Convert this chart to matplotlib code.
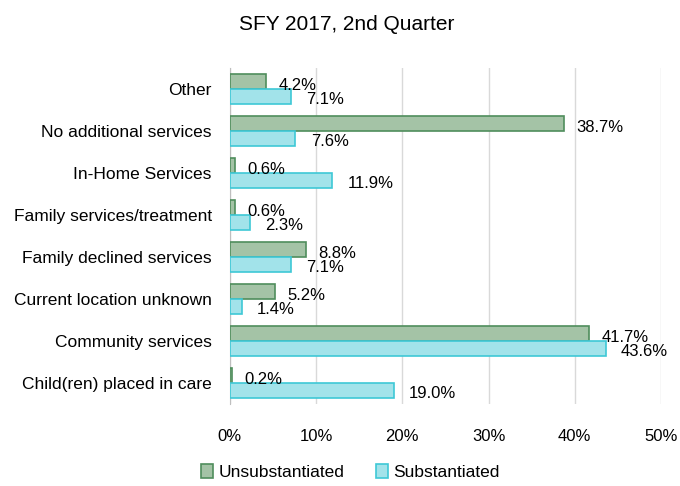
import matplotlib.pyplot as plt
import numpy as np

categories = ["Child(ren) placed in care", "Community services", "Current location unknown",
              "Family declined services", "Family services/treatment", "In-Home Services",
              "No additional services", "Other"]
unsubstantiated = [0.2, 41.7, 5.2, 8.8, 0.6, 0.6, 38.7, 4.2]
substantiated = [19.0, 43.6, 1.4, 7.1, 2.3, 11.9, 7.6, 7.1]
xticks = [0, 10, 20, 30, 40, 50]

plt.rcParams['font.family'] = ['Liberation Sans', 'DejaVu Sans']

fig = plt.figure(figsize=(6.8, 4.86), dpi=100)
ax = fig.add_axes([0.338, 0.169, 0.634, 0.691])

y = np.arange(len(categories))
h = 0.35
b1 = ax.barh(y + h / 2, unsubstantiated, height=h, color='#a4c3a6', edgecolor='#4f8d5c',
             linewidth=1.2, label='Unsubstantiated', zorder=3)
b2 = ax.barh(y - h / 2, substantiated, height=h, color='#a2e3ea', edgecolor='#3ec8d6',
             linewidth=1.2, label='Substantiated', zorder=3)

for v, yy in zip(unsubstantiated, y + h / 2):
    ax.annotate(f"{v:.1f}%", (v, yy), xytext=(9, -3), textcoords='offset points',
                va='center', ha='left', fontsize=12)
for v, yy in zip(substantiated, y - h / 2):
    ax.annotate(f"{v:.1f}%", (v, yy), xytext=(11, -2), textcoords='offset points',
                va='center', ha='left', fontsize=12)

ax.set_xlim(0, 50)
ax.set_ylim(-0.5, len(categories) - 0.5)
ax.set_xticks(xticks)
ax.set_xticklabels([f"{t}%" for t in xticks])
ax.set_yticks(y)
ax.set_yticklabels(categories)
ax.tick_params(axis='x', length=0, pad=18, labelsize=12)
ax.tick_params(axis='y', length=0, pad=13, labelsize=12.5)
ax.grid(axis='x', color='#d9d9d9', linewidth=1, zorder=0)
for s in ['top', 'right', 'bottom']:
    ax.spines[s].set_visible(False)
ax.spines['left'].set_color('#bfbfbf')

fig.suptitle('SFY 2017, 2nd Quarter', x=0.51, y=0.97, fontsize=15)

fig.legend(handles=[b1, b2], loc='lower center', bbox_to_anchor=(0.515, -0.02), ncol=2,
           frameon=False, fontsize=12.5, handlelength=0.7, handleheight=0.9,
           handletextpad=0.3, columnspacing=1.8)

fig.savefig('out.png', dpi=100)
